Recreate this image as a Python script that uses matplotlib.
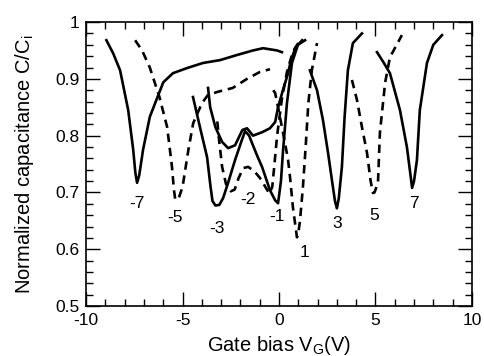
import matplotlib
matplotlib.use("Agg")
import matplotlib.pyplot as plt
from matplotlib.ticker import MultipleLocator, FormatStrFormatter

plt.rcParams["font.family"] = ["Liberation Sans", "DejaVu Sans"]
plt.rcParams["mathtext.fontset"] = "custom"
plt.rcParams["mathtext.rm"] = "Liberation Sans"
plt.rcParams["axes.unicode_minus"] = False

# solid curves
m7_x = [-8.95, -8.6, -8.24, -7.82, -7.56, -7.45, -7.36, -7.25, -7.05, -6.7, -6.3,
        -6.0, -5.5, -4.77, -3.94, -3.06, -2.18, -1.35, -0.83, -0.1, 0.15]
m7_y = [0.968, 0.945, 0.915, 0.845, 0.775, 0.735, 0.717, 0.73, 0.775, 0.833, 0.868,
        0.894, 0.91, 0.919, 0.928, 0.933, 0.942, 0.95, 0.954, 0.95, 0.947]

m3_x = [-4.46, -4.1, -3.73, -3.55, -3.45, -3.3, -3.1, -2.9, -2.64, -2.28, -1.95,
        -1.76, -1.55, -1.4, -1.1, -0.88, -0.47, -0.2, -0.05, 0.1, 0.2, 0.41, 0.67,
        0.98, 1.35]
m3_y = [0.868, 0.815, 0.762, 0.71, 0.685, 0.677, 0.678, 0.69, 0.717, 0.757, 0.79,
        0.808, 0.8, 0.787, 0.762, 0.745, 0.704, 0.686, 0.681, 0.72, 0.77, 0.857,
        0.928, 0.96, 0.968]

mid_x = [-3.68, -3.57, -3.3, -2.95, -2.64, -2.28, -1.9, -1.66, -1.35, -0.88, -0.47,
         -0.2, -0.05, 0.2, 0.47, 0.6, 0.85, 1.2]
mid_y = [0.884, 0.85, 0.815, 0.789, 0.778, 0.783, 0.81, 0.813, 0.80, 0.806, 0.813,
         0.824, 0.85, 0.88, 0.91, 0.93, 0.955, 0.968]

p3_x = [1.6, 1.97, 2.28, 2.54, 2.75, 2.9, 3.0, 3.1, 3.26, 3.4, 3.57, 3.83, 4.3]
p3_y = [0.915, 0.88, 0.827, 0.77, 0.72, 0.685, 0.672, 0.69, 0.745, 0.833, 0.915,
        0.963, 0.98]

p7_x = [5.08, 5.4, 5.75, 6.27, 6.63, 6.8, 6.9, 7.0, 7.15, 7.3, 7.67, 8.0, 8.45]
p7_y = [0.947, 0.93, 0.91, 0.845, 0.78, 0.735, 0.708, 0.72, 0.757, 0.845, 0.928,
        0.96, 0.977]

# dashed curves
m5_x = [-7.46, -7.1, -6.7, -6.2, -5.8, -5.55, -5.45, -5.38, -5.2, -5.0, -4.7, -4.45,
        -4.0, -3.7, -3.2, -2.4, -1.66, -1.0, -0.47]
m5_y = [0.968, 0.95, 0.92, 0.868, 0.815, 0.745, 0.705, 0.687, 0.69, 0.71, 0.775,
        0.822, 0.857, 0.871, 0.877, 0.884, 0.90, 0.912, 0.917]

m2_x = [-3.2, -3.1, -2.95, -2.75, -2.5, -2.3, -2.1, -1.85, -1.6, -1.3, -1.0, -0.75,
        -0.5, -0.35, -0.25, -0.1, 0.15, 0.41, 0.72, 1.05]
m2_y = [0.825, 0.79, 0.745, 0.715, 0.702, 0.705, 0.725, 0.743, 0.745, 0.738, 0.726,
        0.712, 0.698, 0.71, 0.745, 0.8, 0.865, 0.912, 0.948, 0.966]

p1_x = [-0.3, -0.2, -0.05, 0.15, 0.31, 0.47, 0.57, 0.72, 0.83, 0.93, 1.0, 1.09, 1.24,
        1.38, 1.52, 1.7, 1.97]
p1_y = [0.88, 0.875, 0.85, 0.815, 0.787, 0.757, 0.727, 0.674, 0.646, 0.621, 0.628,
        0.651, 0.71, 0.78, 0.857, 0.915, 0.963]

p5_x = [3.78, 4.04, 4.3, 4.56, 4.75, 4.87, 4.95, 5.13, 5.23, 5.5, 5.75, 6.37]
p5_y = [0.898, 0.863, 0.815, 0.77, 0.72, 0.699, 0.70, 0.717, 0.805, 0.893, 0.938,
        0.977]

# filling-factor labels
label_text = ["-7", "-5", "-3", "-2", "-1", "1", "3", "5", "7"]
label_x = [-7.36, -5.39, -3.21, -1.6, -0.1, 1.3, 3.0, 4.92, 7.0]
label_y = [0.68, 0.655, 0.637, 0.687, 0.657, 0.595, 0.646, 0.66, 0.681]

fig = plt.figure(figsize=(4.84, 3.56), dpi=100)
ax = fig.add_axes([0.178, 0.1404, 0.797, 0.7976])

solid = dict(color="black", lw=1.9, linestyle="-")
dashed = dict(color="black", lw=1.9, linestyle=(0, (3.2, 2.2)))

for xs, ys in [(m7_x, m7_y), (m3_x, m3_y), (mid_x, mid_y), (p3_x, p3_y), (p7_x, p7_y)]:
    ax.plot(xs, ys, **solid)
for xs, ys in [(m5_x, m5_y), (m2_x, m2_y), (p1_x, p1_y), (p5_x, p5_y)]:
    ax.plot(xs, ys, **dashed)

for t, x, y in zip(label_text, label_x, label_y):
    ax.text(x, y, t, ha="center", va="center", fontsize=12.5)

ax.set_xlim(-10, 10)
ax.set_ylim(0.5, 1.0)
ax.xaxis.set_major_locator(MultipleLocator(5))
ax.xaxis.set_minor_locator(MultipleLocator(1))
ax.yaxis.set_major_locator(MultipleLocator(0.1))
ax.yaxis.set_minor_locator(MultipleLocator(0.02))
ax.yaxis.set_major_formatter(FormatStrFormatter("%g"))
ax.tick_params(which="both", direction="in", top=True, right=True, labelsize=12.5,
               width=1.0)
ax.tick_params(which="major", length=10, pad=5)
ax.tick_params(which="minor", length=5)
for s in ax.spines.values():
    s.set_linewidth(1.2)

ax.set_xlabel(r"Gate bias V$_\mathregular{G}$(V)", fontsize=14.5, labelpad=4)
ax.set_ylabel(r"Normalized capacitance C/C$_\mathregular{i}$", fontsize=14.5, labelpad=14)

fig.savefig("out.png", dpi=100)
